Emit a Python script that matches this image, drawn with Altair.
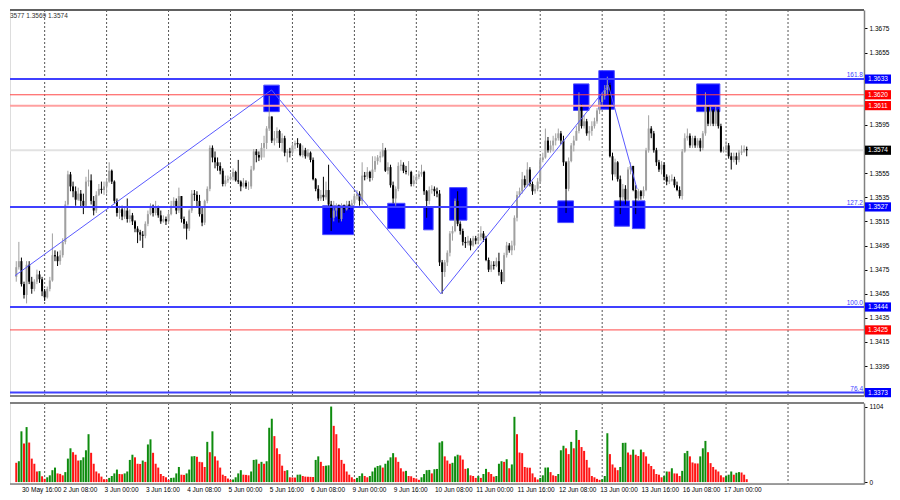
import altair as alt
import pandas as pd

# ---------------- data ----------------
first_open = 1.3469
closes = [
    1.3477, 1.3482, 1.3463, 1.3454, 1.3479, 1.3465, 1.3459, 1.3465, 1.3471, 1.3467,
    1.3457, 1.3452, 1.3459, 1.3466, 1.3487, 1.3486, 1.3482, 1.3487, 1.3498, 1.3529,
    1.3554, 1.3544, 1.3540, 1.3533, 1.3538, 1.3532, 1.3528, 1.3548, 1.3549, 1.3532,
    1.3524, 1.3537, 1.3542, 1.3541, 1.3544, 1.3548, 1.3557, 1.3548, 1.3532, 1.3522,
    1.3525, 1.3519, 1.3524, 1.3517, 1.3520, 1.3515, 1.3509, 1.3506, 1.3504, 1.3503,
    1.3513, 1.3521, 1.3528, 1.3522, 1.3527, 1.3520, 1.3515, 1.3517, 1.3515, 1.3521,
    1.3528, 1.3532, 1.3524, 1.3536, 1.3517, 1.3513, 1.3509, 1.3524, 1.3538, 1.3537,
    1.3532, 1.3521, 1.3514, 1.3532, 1.3542, 1.3576, 1.3568, 1.3564, 1.3561, 1.3557,
    1.3546, 1.3549, 1.3550, 1.3552, 1.3556, 1.3549, 1.3548, 1.3544, 1.3547, 1.3544,
    1.3544, 1.3558, 1.3573, 1.3570, 1.3568, 1.3576, 1.3580, 1.3592, 1.3602, 1.3582,
    1.3584, 1.3590, 1.3580, 1.3584, 1.3572, 1.3573, 1.3572, 1.3578, 1.3580, 1.3579,
    1.3570, 1.3574, 1.3569, 1.3572, 1.3566, 1.3550, 1.3542, 1.3534, 1.3537, 1.3535,
    1.3541, 1.3529, 1.3518, 1.3524, 1.3528, 1.3517, 1.3528, 1.3525, 1.3529, 1.3528,
    1.3530, 1.3536, 1.3538, 1.3532, 1.3553, 1.3552, 1.3556, 1.3551, 1.3558, 1.3565,
    1.3568, 1.3569, 1.3574, 1.3557, 1.3560, 1.3545, 1.3534, 1.3542, 1.3561, 1.3562,
    1.3557, 1.3556, 1.3556, 1.3546, 1.3549, 1.3552, 1.3554, 1.3556, 1.3540, 1.3532,
    1.3541, 1.3542, 1.3540, 1.3538, 1.3481, 1.3473, 1.3481, 1.3489, 1.3505, 1.3507,
    1.3532, 1.3513, 1.3507, 1.3498, 1.3497, 1.3499, 1.3495, 1.3501, 1.3499, 1.3502,
    1.3505, 1.3501, 1.3483, 1.3475, 1.3479, 1.3478, 1.3482, 1.3473, 1.3465, 1.3487,
    1.3495, 1.3491, 1.3495, 1.3518, 1.3537, 1.3540, 1.3550, 1.3545, 1.3558, 1.3546,
    1.3540, 1.3542, 1.3548, 1.3566, 1.3568, 1.3582, 1.3574, 1.3578, 1.3582, 1.3584,
    1.3588, 1.3582, 1.3564, 1.3542, 1.3565, 1.3578, 1.3582, 1.3590, 1.3610, 1.3594,
    1.3598, 1.3588, 1.3590, 1.3594, 1.3598, 1.3607, 1.3614, 1.3619, 1.3624, 1.3628,
    1.3569, 1.3554, 1.3564, 1.3550, 1.3535, 1.3542, 1.3533, 1.3558, 1.3561, 1.3541,
    1.3534, 1.3540, 1.3536, 1.3541, 1.3574, 1.3592, 1.3588, 1.3574, 1.3564, 1.3558,
    1.3562, 1.3552, 1.3548, 1.3549, 1.3550, 1.3545, 1.3541, 1.3536, 1.3573, 1.3584,
    1.3586, 1.3578, 1.3584, 1.3578, 1.3582, 1.3576, 1.3588, 1.3610, 1.3596, 1.3607,
    1.3596, 1.3607, 1.3594, 1.3573, 1.3574, 1.3578, 1.3569, 1.3566, 1.3569, 1.3566,
    1.3572, 1.3573, 1.3575, 1.3574,
]
highs = [
    1.3482, 1.3498, 1.3485, 1.3465, 1.3482, 1.3482, 1.3469, 1.3467, 1.3475, 1.3474,
    1.3469, 1.3459, 1.3461, 1.3469, 1.3505, 1.3491, 1.3490, 1.3491, 1.3501, 1.3532,
    1.3557, 1.3556, 1.3548, 1.3544, 1.3543, 1.3541, 1.3538, 1.3552, 1.3558, 1.3554,
    1.3536, 1.3540, 1.3546, 1.3548, 1.3548, 1.3551, 1.3564, 1.3558, 1.3549, 1.3534,
    1.3528, 1.3528, 1.3527, 1.3534, 1.3525, 1.3522, 1.3516, 1.3511, 1.3508, 1.3507,
    1.3515, 1.3524, 1.3530, 1.3529, 1.3532, 1.3528, 1.3524, 1.3520, 1.3519, 1.3524,
    1.3532, 1.3535, 1.3534, 1.3543, 1.3536, 1.3519, 1.3515, 1.3525, 1.3541, 1.3541,
    1.3540, 1.3537, 1.3527, 1.3533, 1.3544, 1.3578, 1.3578, 1.3573, 1.3568, 1.3564,
    1.3559, 1.3553, 1.3553, 1.3555, 1.3559, 1.3557, 1.3566, 1.3549, 1.3551, 1.3549,
    1.3548, 1.3561, 1.3575, 1.3575, 1.3573, 1.3580, 1.3586, 1.3594, 1.3619, 1.3600,
    1.3590, 1.3593, 1.3591, 1.3588, 1.3586, 1.3575, 1.3576, 1.3580, 1.3582, 1.3584,
    1.3580, 1.3578, 1.3576, 1.3575, 1.3573, 1.3568, 1.3551, 1.3545, 1.3541, 1.3552,
    1.3548, 1.3562, 1.3532, 1.3532, 1.3530, 1.3529, 1.3530, 1.3529, 1.3532, 1.3532,
    1.3533, 1.3538, 1.3541, 1.3540, 1.3564, 1.3556, 1.3560, 1.3557, 1.3569, 1.3569,
    1.3570, 1.3573, 1.3580, 1.3576, 1.3564, 1.3562, 1.3548, 1.3544, 1.3564, 1.3566,
    1.3564, 1.3561, 1.3565, 1.3557, 1.3553, 1.3554, 1.3557, 1.3562, 1.3557, 1.3541,
    1.3544, 1.3545, 1.3544, 1.3543, 1.3541, 1.3483, 1.3483, 1.3491, 1.3507, 1.3511,
    1.3534, 1.3540, 1.3515, 1.3509, 1.3502, 1.3503, 1.3501, 1.3503, 1.3503, 1.3505,
    1.3511, 1.3507, 1.3503, 1.3485, 1.3482, 1.3482, 1.3485, 1.3489, 1.3475, 1.3489,
    1.3498, 1.3497, 1.3499, 1.3520, 1.3540, 1.3543, 1.3556, 1.3553, 1.3564, 1.3560,
    1.3548, 1.3545, 1.3551, 1.3569, 1.3572, 1.3592, 1.3585, 1.3582, 1.3586, 1.3588,
    1.3592, 1.3590, 1.3586, 1.3565, 1.3568, 1.3580, 1.3586, 1.3594, 1.3622, 1.3612,
    1.3603, 1.3600, 1.3594, 1.3598, 1.3601, 1.3609, 1.3616, 1.3622, 1.3628, 1.3635,
    1.3630, 1.3572, 1.3567, 1.3565, 1.3553, 1.3546, 1.3545, 1.3560, 1.3564, 1.3560,
    1.3545, 1.3542, 1.3541, 1.3544, 1.3576, 1.3603, 1.3594, 1.3590, 1.3576, 1.3566,
    1.3565, 1.3564, 1.3554, 1.3553, 1.3554, 1.3552, 1.3548, 1.3544, 1.3575, 1.3588,
    1.3592, 1.3588, 1.3586, 1.3586, 1.3584, 1.3584, 1.3590, 1.3622, 1.3612, 1.3610,
    1.3608, 1.3610, 1.3608, 1.3596, 1.3577, 1.3582, 1.3580, 1.3572, 1.3572, 1.3572,
    1.3574, 1.3578, 1.3578, 1.3577,
]
lows = [
    1.3465, 1.3475, 1.3461, 1.3451, 1.3447, 1.3463, 1.3455, 1.3457, 1.3463, 1.3464,
    1.3453, 1.3449, 1.3451, 1.3457, 1.3465, 1.3482, 1.3478, 1.3479, 1.3485, 1.3496,
    1.3528, 1.3540, 1.3535, 1.3528, 1.3532, 1.3527, 1.3521, 1.3527, 1.3544, 1.3529,
    1.3520, 1.3522, 1.3536, 1.3538, 1.3537, 1.3538, 1.3547, 1.3546, 1.3530, 1.3519,
    1.3517, 1.3516, 1.3517, 1.3514, 1.3514, 1.3512, 1.3506, 1.3497, 1.3499, 1.3493,
    1.3501, 1.3511, 1.3520, 1.3519, 1.3520, 1.3518, 1.3513, 1.3514, 1.3512, 1.3513,
    1.3520, 1.3527, 1.3521, 1.3522, 1.3514, 1.3509, 1.3500, 1.3507, 1.3522, 1.3532,
    1.3527, 1.3519, 1.3511, 1.3512, 1.3530, 1.3540, 1.3564, 1.3559, 1.3557, 1.3554,
    1.3544, 1.3544, 1.3547, 1.3549, 1.3549, 1.3548, 1.3546, 1.3540, 1.3543, 1.3542,
    1.3541, 1.3542, 1.3557, 1.3564, 1.3565, 1.3566, 1.3568, 1.3575, 1.3590, 1.3580,
    1.3578, 1.3580, 1.3576, 1.3573, 1.3569, 1.3564, 1.3568, 1.3570, 1.3575, 1.3576,
    1.3569, 1.3568, 1.3567, 1.3568, 1.3564, 1.3549, 1.3540, 1.3532, 1.3532, 1.3532,
    1.3533, 1.3528, 1.3507, 1.3515, 1.3519, 1.3514, 1.3515, 1.3522, 1.3524, 1.3525,
    1.3527, 1.3528, 1.3533, 1.3528, 1.3529, 1.3549, 1.3550, 1.3548, 1.3549, 1.3556,
    1.3562, 1.3564, 1.3568, 1.3556, 1.3554, 1.3543, 1.3530, 1.3528, 1.3540, 1.3557,
    1.3555, 1.3554, 1.3553, 1.3544, 1.3544, 1.3547, 1.3550, 1.3552, 1.3537, 1.3518,
    1.3529, 1.3538, 1.3536, 1.3535, 1.3478, 1.3455, 1.3469, 1.3478, 1.3486, 1.3499,
    1.3506, 1.3511, 1.3504, 1.3495, 1.3493, 1.3495, 1.3491, 1.3494, 1.3496, 1.3496,
    1.3499, 1.3498, 1.3482, 1.3473, 1.3473, 1.3475, 1.3477, 1.3470, 1.3463, 1.3465,
    1.3485, 1.3489, 1.3487, 1.3491, 1.3515, 1.3535, 1.3538, 1.3543, 1.3544, 1.3544,
    1.3537, 1.3538, 1.3540, 1.3546, 1.3564, 1.3567, 1.3572, 1.3572, 1.3573, 1.3578,
    1.3582, 1.3579, 1.3561, 1.3522, 1.3540, 1.3564, 1.3573, 1.3582, 1.3588, 1.3592,
    1.3592, 1.3586, 1.3582, 1.3586, 1.3592, 1.3596, 1.3604, 1.3611, 1.3616, 1.3620,
    1.3568, 1.3549, 1.3552, 1.3548, 1.3521, 1.3532, 1.3529, 1.3532, 1.3554, 1.3540,
    1.3521, 1.3532, 1.3533, 1.3534, 1.3540, 1.3572, 1.3584, 1.3572, 1.3561, 1.3556,
    1.3554, 1.3549, 1.3545, 1.3546, 1.3548, 1.3543, 1.3540, 1.3534, 1.3533, 1.3572,
    1.3582, 1.3576, 1.3576, 1.3576, 1.3576, 1.3573, 1.3574, 1.3586, 1.3594, 1.3594,
    1.3594, 1.3594, 1.3592, 1.3572, 1.3572, 1.3572, 1.3567, 1.3558, 1.3564, 1.3562,
    1.3564, 1.3570, 1.3572, 1.3569,
]
volumes = [
    282, 305, 742, 564, 804, 578, 343, 268, 155, 160,
    85, 47, 70, 99, 174, 212, 127, 120, 99, 146,
    343, 494, 437, 400, 315, 320, 362, 465, 700, 428,
    268, 155, 127, 80, 42, 40, 61, 89, 127, 183,
    118, 115, 127, 155, 324, 400, 362, 268, 265, 315,
    296, 550, 625, 428, 268, 212, 118, 89, 70, 33,
    61, 65, 127, 221, 108, 105, 127, 183, 376, 380,
    370, 296, 290, 221, 588, 437, 742, 376, 315, 212,
    108, 89, 52, 33, 38, 70, 127, 174, 108, 105,
    99, 155, 324, 330, 268, 296, 268, 305, 794, 926,
    672, 494, 409, 240, 164, 174, 70, 68, 66, 108,
    110, 89, 80, 78, 76, 74, 324, 376, 296, 235,
    240, 245, 1104, 822, 700, 494, 324, 268, 155, 108,
    70, 42, 61, 89, 127, 89, 70, 89, 155, 212,
    235, 244, 212, 268, 315, 362, 423, 362, 296, 202,
    155, 164, 89, 85, 61, 52, 33, 70, 118, 174,
    178, 127, 188, 192, 578, 597, 376, 315, 268, 282,
    376, 400, 390, 329, 193, 202, 99, 89, 61, 89,
    61, 118, 193, 146, 118, 80, 89, 268, 305, 296,
    334, 202, 258, 954, 700, 432, 423, 221, 212, 210,
    127, 70, 38, 61, 99, 212, 214, 146, 99, 89,
    118, 465, 531, 494, 409, 588, 494, 761, 616, 512,
    456, 324, 212, 89, 70, 47, 33, 42, 89, 714,
    409, 258, 212, 174, 221, 573, 575, 432, 400, 475,
    400, 381, 475, 437, 376, 268, 235, 188, 118, 108,
    70, 89, 155, 153, 202, 127, 125, 89, 164, 423,
    456, 376, 287, 273, 272, 376, 494, 602, 437, 277,
    221, 183, 155, 99, 70, 89, 108, 155, 108, 136,
    146, 140, 108, 42,
]

# time axis (bar index of each label / day separator)
label_idx = [3, 19, 35, 51, 67, 83, 99, 115, 131, 147, 163, 179, 195, 211, 227, 243, 259, 275]
label_text = ["30 May 16:00", "2 Jun 08:00", "3 Jun 00:00", "3 Jun 16:00", "4 Jun 08:00",
              "5 Jun 00:00", "5 Jun 16:00", "6 Jun 08:00", "9 Jun 00:00", "9 Jun 16:00",
              "10 Jun 08:00", "11 Jun 00:00", "11 Jun 16:00", "12 Jun 08:00", "13 Jun 00:00",
              "13 Jun 16:00", "16 Jun 08:00", "17 Jun 00:00"]
day_idx = [11, 35, 59, 83, 107, 131, 155, 179, 203, 227, 251, 275, 299]

# visible price-scale labels (the others are covered by the coloured price tags)
price_ticks = [1.3395, 1.3415, 1.3435, 1.3455, 1.3475, 1.3495, 1.3515, 1.3535,
               1.3555, 1.3595, 1.3655, 1.3675]

fib_prices = [1.3633, 1.3527, 1.3444, 1.3373]
fib_labels = ["161.8", "127.2", "100.0", "76.4"]
red_prices = [1.3620, 1.3425]
pink_prices = [1.3611]
bid_price = [1.3574]

tag_prices = [1.3633, 1.3620, 1.3611, 1.3574, 1.3527, 1.3444, 1.3425, 1.3373]
tag_text = ["1.3633", "1.3620", "1.3611", "1.3574", "1.3527", "1.3444", "1.3425", "1.3373"]
tag_colors = ["#0000ff", "#ff0000", "#ff0000", "#000000", "#0000ff", "#0000ff", "#ff0000", "#0000ff"]

box_x0 = [95.9, 118.7, 143.9, 157.8, 167.9, 209.8, 215.9, 225.7, 231.7, 238.7, 263.6]
box_x1 = [101.9, 130.7, 150.6, 161.5, 174.6, 215.9, 221.9, 231.7, 237.6, 243.6, 272.6]
box_top = [1.3628, 1.3528, 1.3530, 1.3527, 1.3543, 1.3532, 1.3629, 1.3640, 1.3532, 1.3532, 1.3629]
box_bot = [1.3606, 1.3504, 1.3509, 1.3508, 1.3516, 1.3514, 1.3607, 1.3608, 1.3511, 1.3509, 1.3606]

zig_x = [-0.49, 98.9, 164.5, 229.4, 240.5]
zig_p = [1.3470, 1.3624, 1.3455, 1.3628, 1.3542]

header = ["3577 1.3569 1.3574"]
vol_ticks = [0, 1104]

# ---------------- layout ----------------
W = 854
H1 = 386
H2 = 81
FONT = "Liberation Sans"
FS = 6.5

n = len(closes)
opens = [first_open] + closes[:-1]
df = pd.DataFrame({"i": list(range(n)), "open": opens, "close": closes,
                   "high": highs, "low": lows, "vol": volumes})
df["high"] = df[["high", "open", "close"]].max(axis=1)
df["low"] = df[["low", "open", "close"]].min(axis=1)
df["dir"] = ["up" if c >= o else "down" for o, c in zip(df["open"], df["close"])]
df["vdir"] = ["vdown"] + ["vup" if volumes[k] > volumes[k - 1] else "vdown" for k in range(1, n)]

xs = alt.Scale(domain=[-0.49, 326.5], nice=False, zero=False)
ps = alt.Scale(domain=[1.33702, 1.36903], nice=False, zero=False)
vs = alt.Scale(domain=[-28, 1156], nice=False, zero=False)

X = alt.X("i:Q", scale=xs, axis=None)
one = alt.Data(values=[{}])

price_axis = alt.Axis(orient="right", values=price_ticks, format=".4f", title=None, grid=False,
                      tickSize=3, tickColor="#000000", domainColor="#808080", domainWidth=1.5,
                      labelFont=FONT, labelFontSize=FS, labelColor="#000000", labelPadding=2,
                      labelOverlap=False)


def PY(field):
    return alt.Y(field, scale=ps, axis=price_axis)


grid_df = pd.DataFrame({"i": day_idx})
grid = alt.Chart(grid_df).mark_rule(color="#555555", strokeDash=[2, 2], strokeWidth=1).encode(x=X)

boxes = alt.Chart(pd.DataFrame({"x0": box_x0, "x1": box_x1, "t": box_top, "b": box_bot})).mark_rect(
    color="#0000ff", stroke="#4d4dff", strokeWidth=1).encode(
    x=alt.X("x0:Q", scale=xs, axis=None), x2="x1:Q", y=PY("t:Q"), y2="b:Q")

bid = alt.Chart(pd.DataFrame({"p": bid_price})).mark_rule(color="#e2e2e2", strokeWidth=2).encode(
    y=PY("p:Q"))

cmap = alt.Scale(domain=["up", "down"], range=["#a0a0a0", "#000000"])
wicks = alt.Chart(df).mark_rule(strokeWidth=1).encode(
    x=X, y=PY("low:Q"), y2="high:Q",
    color=alt.Color("dir:N", scale=cmap, legend=None))
bodies = alt.Chart(df).mark_bar(width=2).encode(
    x=X, y=PY("open:Q"), y2="close:Q",
    color=alt.Color("dir:N", scale=cmap, legend=None))

fib = alt.Chart(pd.DataFrame({"p": fib_prices, "t": fib_labels})).mark_rule(
    color="#4040ff", strokeWidth=2).encode(y=PY("p:Q"))
fib_txt = alt.Chart(pd.DataFrame({"p": fib_prices, "t": fib_labels})).mark_text(
    align="right", baseline="bottom", dy=-1, font=FONT, fontSize=FS, color="#4040ff").encode(
    x=alt.value(W - 1), y=PY("p:Q"), text="t:N")
red = alt.Chart(pd.DataFrame({"p": red_prices})).mark_rule(color="#ff4848", strokeWidth=1).encode(
    y=PY("p:Q"))
pink = alt.Chart(pd.DataFrame({"p": pink_prices})).mark_rule(color="#ffa0a0", strokeWidth=2).encode(
    y=PY("p:Q"))

zig = alt.Chart(pd.DataFrame({"i": zig_x, "p": zig_p, "o": list(range(len(zig_x)))})).mark_line(
    color="#5a5aff", strokeWidth=1, clip=True).encode(
    x=X, y=PY("p:Q"), order="o:Q")

head = alt.Chart(pd.DataFrame({"t": header})).mark_text(
    align="left", baseline="middle", font=FONT, fontSize=FS, color="#303030").encode(
    x=alt.value(0), y=alt.value(6), text="t:N")

tag_df = pd.DataFrame({"p": tag_prices, "t": tag_text, "c": tag_colors})
tag_box = alt.Chart(tag_df).mark_point(
    shape="M-1.3,-0.46L1.3,-0.46L1.3,0.46L-1.3,0.46Z", size=400, filled=True, opacity=1,
    strokeWidth=0).encode(
    x=alt.value(W + 14), y=PY("p:Q"), color=alt.Color("c:N", scale=None))
tag_txt = alt.Chart(tag_df).mark_text(
    align="center", baseline="middle", font=FONT, fontSize=FS, color="#ffffff").encode(
    x=alt.value(W + 14), y=PY("p:Q"), text="t:N")


def hline(ypix, color="#707070", w=1.5):
    return alt.Chart(one).mark_rule(color=color, strokeWidth=w).encode(
        x=alt.value(0), x2=alt.value(W), y=alt.value(ypix))


price_panel = alt.layer(
    grid, boxes, bid, wicks, bodies, fib, red, pink, zig, fib_txt, head, tag_box, tag_txt,
    hline(0, "#606060", 2), hline(H1, "#808080", 2),
).properties(width=W, height=H1)

vcmap = alt.Scale(domain=["vup", "vdown"], range=["#0e8c0e", "#ff1414"])
vol_axis = alt.Axis(orient="right", values=vol_ticks, format="d", title=None, grid=False,
                    tickSize=3, tickColor="#000000", domainColor="#808080", domainWidth=1.5,
                    labelFont=FONT, labelFontSize=FS, labelColor="#000000", labelPadding=2)
vbars = alt.Chart(df).mark_bar(width=2).encode(
    x=X, y=alt.Y("vol:Q", scale=vs, axis=vol_axis), y2=alt.datum(0),
    color=alt.Color("vdir:N", scale=vcmap, legend=None))
xlab = alt.Chart(pd.DataFrame({"i": label_idx, "t": label_text})).mark_text(
    align="left", baseline="top", dx=-2, font=FONT, fontSize=FS, color="#000000").encode(
    x=X, y=alt.value(H2 + 3), text="t:N")

vol_panel = alt.layer(
    grid, vbars, xlab, hline(0, "#808080", 2), hline(H2, "#808080", 1.5),
).properties(width=W, height=H2)

chart = alt.vconcat(price_panel, vol_panel, spacing=3).resolve_scale(
    color="independent"
).properties(
    padding={"left": 0, "top": 0, "right": 0, "bottom": 0}
).configure_view(stroke=None).configure(background="#ffffff")

chart.save("out.html", embed_options={"renderer": "svg", "actions": False})
